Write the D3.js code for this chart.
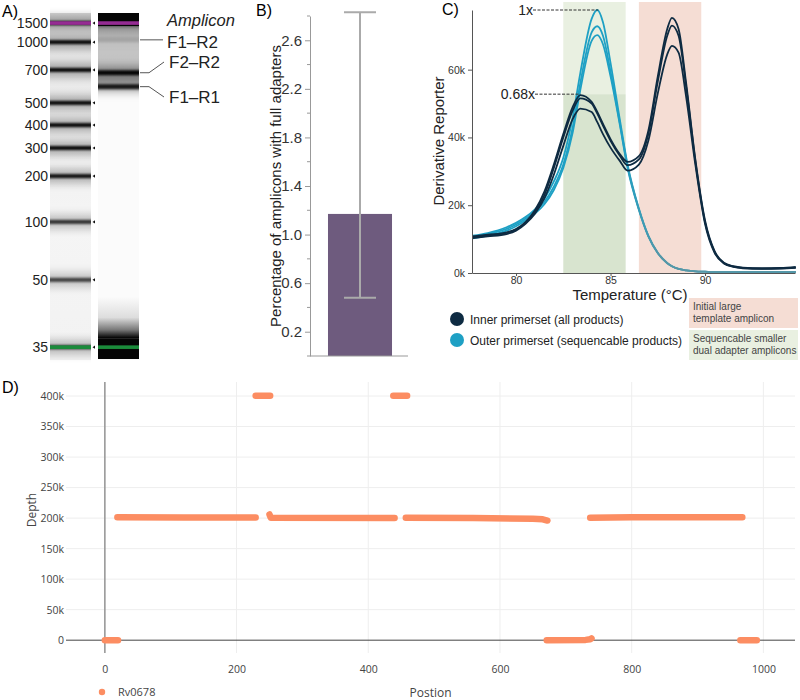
<!DOCTYPE html>
<html>
<head>
<meta charset="utf-8">
<script src="https://cdn.jsdelivr.net/npm/d3@7"></script>
<style>
  body { margin: 0; background: #fff; }
  svg { display: block; font-family: "Liberation Sans", Arial, sans-serif; }
  .plotly text { font-family: "Open Sans", sans-serif; }
</style>
</head>
<body>
<svg id="fig" width="800" height="700"></svg>
<script>
// ---- A) gel ----
const ladderSizes = [1500, 1000, 700, 500, 400, 300, 200, 100, 50, 35];
const ladderMigration = [0.029, 0.084, 0.164, 0.259, 0.323, 0.389, 0.47, 0.602, 0.769, 0.963];
const ladderIntensity = [1, 0.95, 0.95, 0.95, 0.95, 0.95, 0.9, 0.75, 0.68, 0.8];
const ampliconNames = ["F1–R2", "F2–R2", "F1–R1"];
const ampliconSizes = [1050, 680, 590];
const ampliconIntensity = [0.12, 0.95, 0.85];

// ---- B) bar ----
const barCategory = ["Full adapters"];
const barMean = [1.17];
const barLow = [0.48];
const barHigh = [2.83];
const barTicks = [0.2, 0.6, 1.0, 1.4, 1.8, 2.2, 2.6];
const barMinorTicks = [0.4, 0.8, 1.2, 1.6, 2.0, 2.4, 2.8];

// ---- C) melt curves (values in k) ----
const meltTemps = [77.7, 78.5, 79.5, 80, 80.5, 81, 81.5, 82, 82.5, 83, 83.4, 84, 84.3, 84.6, 85, 85.5, 85.9,
  86.5, 87, 87.5, 88, 88.25, 88.6, 89, 89.5, 90, 90.5, 91, 91.5, 92, 93, 94, 94.8];
const innerCurves = [
  [10.8, 11.3, 12.0, 13.0, 15.0, 18.5, 24.0, 32.0, 41.0, 49.0, 52.5, 50.5, 47.5, 44.0, 39.5, 35.0, 32.8,
   34.5, 42.0, 58.0, 72.0, 75.3, 72.0, 56.0, 33.0, 15.5, 6.5, 3.0, 2.0, 1.6, 1.4, 1.5, 1.8],
  [10.5, 11.0, 11.8, 12.8, 14.8, 18.0, 23.0, 31.0, 40.0, 48.0, 51.5, 50.0, 47.0, 43.5, 39.0, 34.5, 31.8,
   33.5, 41.0, 56.5, 70.0, 73.0, 70.0, 55.0, 32.5, 15.0, 6.3, 2.9, 1.9, 1.5, 1.3, 1.4, 1.6],
  [10.3, 10.8, 11.5, 12.5, 14.5, 17.5, 22.0, 29.0, 37.5, 45.5, 48.5, 47.5, 44.5, 41.0, 37.0, 33.0, 30.2,
   32.0, 39.0, 53.0, 64.5, 67.0, 65.0, 52.0, 31.5, 14.5, 6.0, 2.8, 1.8, 1.4, 1.2, 1.3, 1.5]
];
const outerCurves = [
  [11.0, 11.8, 13.5, 14.8, 16.5, 18.8, 22.0, 27.0, 34.0, 46.0, 59.0, 75.0, 77.6, 74.0, 62.0, 45.0, 32.0,
   19.0, 11.0, 6.0, 3.0, 2.0, 1.2, 0.8, 0.5, 0.4, 0.3, 0.3, 0.3, 0.3, 0.3, 0.3, 0.3],
  [10.7, 11.5, 13.0, 14.3, 16.0, 18.2, 21.0, 25.5, 32.0, 43.0, 56.0, 71.0, 72.8, 70.0, 59.5, 44.0, 31.5,
   18.8, 10.9, 5.9, 2.9, 2.0, 1.2, 0.8, 0.5, 0.4, 0.3, 0.3, 0.3, 0.3, 0.3, 0.3, 0.3],
  [10.2, 11.0, 12.5, 13.8, 15.5, 17.5, 20.3, 24.5, 31.0, 41.5, 54.0, 68.5, 70.2, 67.5, 58.0, 43.5, 31.0,
   18.6, 10.8, 5.8, 2.9, 2.0, 1.2, 0.8, 0.5, 0.4, 0.3, 0.3, 0.3, 0.3, 0.3, 0.3, 0.3]
];
const greenZone = [82.5, 85.8];
const redZone = [86.5, 89.8];
const peakRef = 77.6;
const peakRatio = 0.68;
const peakTemps = [84.35, 83.4];
const meltXTicks = [80, 85, 90];
const meltYTicks = [0, 20, 40, 60];
const legendNames = ["Inner primerset (all products)", "Outer primerset (sequencable products)"];

// ---- D) depth ----
const depthSegments = [
  [[0, 0], [20, 0]],
  [[19, 201500], [120, 201000], [229, 201000]],
  [[229, 400500], [251, 400500]],
  [[250, 206000], [252, 200500], [440, 200000]],
  [[438, 400500], [459, 400500]],
  [[457, 200500], [560, 200000], [650, 199000], [665, 198000], [672, 196000]],
  [[671, 0], [730, 500], [737, 1500], [739, 3000]],
  [[737, 200500], [800, 201500], [968, 201500]],
  [[965, 0], [990, 0]]
];
const depthXTicks = [0, 200, 400, 600, 800, 1000];
const depthYTicks = [0, 50000, 100000, 150000, 200000, 250000, 300000, 350000, 400000];
const depthSeriesName = "Rv0678";

const svg = d3.select("#fig");
const defs = svg.append("defs");

const blur = (id, sd) => {
  defs.append("filter").attr("id", id)
    .attr("filterUnits", "userSpaceOnUse")
    .attr("x", 0).attr("y", 0).attr("width", 800).attr("height", 400)
    .append("feGaussianBlur").attr("stdDeviation", `0 ${sd}`);
};
blur("coreBlur", 1);
blur("haloBlur", 4);
blur("smearBlur", 1.5);

const vgrad = (id, stops) => {
  const g = defs.append("linearGradient").attr("id", id)
    .attr("x1", 0).attr("x2", 0).attr("y1", 0).attr("y2", 1);
  stops.forEach(([o, c]) => g.append("stop").attr("offset", o).attr("stop-color", c));
};

// ================= A =================
const gelTop = 13, gelBottom = 360;
const mig = d3.scaleLinear().domain([0, 1]).range([gelTop, gelBottom]);
const sizeToMig = d3.scaleLog().domain(ladderSizes).range(ladderMigration);
const bandY = (s) => mig(sizeToMig(s));
const ladderX = 50, sampleX = 98, laneW = 41;

svg.append("text").attr("x", 2).attr("y", 17).style("font-size", "16px").text("A)");

vgrad("ladderBg", [[0, "#d8d8d8"], [0.06, "#e4e4e4"], [0.3, "#eeeeee"], [0.6, "#f5f5f5"], [1, "#f2f2f2"]]);
vgrad("sampleSmear", [[0, "#222"], [0.08, "#9a9a9a"], [0.25, "#c6c6c6"], [0.55, "#c2c2c2"],
  [0.8, "#a5a5a5"], [0.93, "#dadada"], [1, "#fbfbfb"]]);
vgrad("sampleBottom", [[0, "#fbfbfb"], [0.5, "#dddddd"], [0.8, "#777"], [1, "#000"]]);

const ladder = svg.append("g");
ladder.append("rect").attr("x", ladderX).attr("y", gelTop).attr("width", laneW)
  .attr("height", gelBottom - gelTop).attr("fill", "url(#ladderBg)");

ladderSizes.forEach((s, i) => {
  const y = mig(ladderMigration[i]);
  ladder.append("rect").attr("x", ladderX).attr("y", y - 7).attr("width", laneW).attr("height", 14)
    .attr("fill", "#000").attr("opacity", 0.3 * ladderIntensity[i]).attr("filter", "url(#haloBlur)");
  ladder.append("rect").attr("x", ladderX).attr("y", y - 2).attr("width", laneW).attr("height", 4)
    .attr("fill", "#000").attr("opacity", ladderIntensity[i]).attr("filter", "url(#coreBlur)");
  svg.append("path")
    .attr("d", `M${ladderX + laneW + 4},${y - 1.6}L${ladderX + laneW + 1.5},${y}L${ladderX + laneW + 4},${y + 1.6}Z`)
    .attr("fill", "#111");
  svg.append("text").attr("x", ladderX - 2).attr("y", y + 5).attr("text-anchor", "end")
    .style("font-size", "14px").attr("fill", "#222").text(s);
});

const sample = svg.append("g");
sample.append("rect").attr("x", sampleX).attr("y", gelTop).attr("width", laneW)
  .attr("height", gelBottom - gelTop).attr("fill", "#fbfbfb");
sample.append("rect").attr("x", sampleX).attr("y", bandY(1500)).attr("width", laneW)
  .attr("height", mig(0.23) - bandY(1500)).attr("fill", "url(#sampleSmear)").attr("filter", "url(#smearBlur)");
sample.append("rect").attr("x", sampleX).attr("y", gelTop).attr("width", laneW)
  .attr("height", bandY(1500) + 3 - gelTop).attr("fill", "#050505");
ampliconSizes.forEach((s, i) => {
  const y = bandY(s);
  sample.append("rect").attr("x", sampleX).attr("y", y - 6).attr("width", laneW).attr("height", 12)
    .attr("fill", "#000").attr("opacity", 0.3 * ampliconIntensity[i]).attr("filter", "url(#haloBlur)");
  sample.append("rect").attr("x", sampleX).attr("y", y - 2.5).attr("width", laneW).attr("height", 5)
    .attr("fill", "#000").attr("opacity", ampliconIntensity[i]).attr("filter", "url(#coreBlur)");
});
sample.append("rect").attr("x", sampleX).attr("y", mig(0.818)).attr("width", laneW)
  .attr("height", mig(0.937) - mig(0.818)).attr("fill", "url(#sampleBottom)");
sample.append("rect").attr("x", sampleX).attr("y", mig(0.937)).attr("width", laneW)
  .attr("height", gelBottom - mig(0.937) - 1).attr("fill", "#050505");

// size markers (top purple, bottom green)
[ladderX, sampleX].forEach((lx) => {
  svg.append("rect").attr("x", lx).attr("y", bandY(1500) - 1.8).attr("width", laneW).attr("height", 3.6)
    .attr("fill", "#952c93");
  svg.append("rect").attr("x", lx).attr("y", bandY(35) - 1.8).attr("width", laneW).attr("height", 3.6)
    .attr("fill", "#1b8b3b");
});

// amplicon labels
svg.append("text").attr("x", 167).attr("y", 26).style("font-size", "16.5px")
  .style("font-style", "italic").attr("fill", "#222").text("Amplicon");
const labelY = [42, 62, 97];
ampliconSizes.forEach((s, i) => {
  const y = bandY(s);
  const ly = labelY[i];
  const pts = i === 0 ? [[140, y], [163, y]] : [[140, y], [149, y], [164, ly]];
  svg.append("path").attr("d", d3.line()(pts)).attr("fill", "none").attr("stroke", "#555").attr("stroke-width", 1);
  svg.append("text").attr("x", i === 0 ? 167 : 169).attr("y", ly + 6).style("font-size", "17px")
    .attr("fill", "#222").text(ampliconNames[i]);
});

// ================= B =================
svg.append("text").attr("x", 256).attr("y", 16).style("font-size", "16px").text("B)");
const yB = d3.scaleLinear().domain([0, 2.8]).range([356, 16]);
const xB = d3.scaleBand().domain(barCategory).range([310, 410]).paddingInner(0).paddingOuter(0.281);

svg.append("rect").attr("x", xB(barCategory[0])).attr("y", yB(barMean[0]))
  .attr("width", xB.bandwidth()).attr("height", yB(0) - yB(barMean[0])).attr("fill", "#6e5b7e");

const gB = svg.append("g").attr("transform", "translate(310,0)")
  .call(d3.axisLeft(yB).tickValues(barTicks).tickSize(5).tickSizeOuter(0).tickFormat(d3.format(".1f")));
gB.select(".domain").attr("stroke", "#999");
gB.selectAll(".tick line").attr("stroke", "#999");
gB.selectAll(".tick text").style("font-size", "15px").attr("fill", "#333")
  .style("font-family", "'Liberation Sans', Arial, sans-serif");
svg.append("g").selectAll("line").data(barMinorTicks).join("line")
  .attr("x1", 307).attr("x2", 310).attr("y1", (d) => yB(d)).attr("y2", (d) => yB(d)).attr("stroke", "#999");
svg.append("line").attr("x1", 307).attr("x2", 408).attr("y1", yB(0)).attr("y2", yB(0)).attr("stroke", "#999");

const cx = xB(barCategory[0]) + xB.bandwidth() / 2;
const capW = xB.bandwidth() / 2;
svg.append("line").attr("x1", cx).attr("x2", cx).attr("y1", yB(barHigh[0])).attr("y2", yB(barLow[0]))
  .attr("stroke", "#aaa").attr("stroke-width", 2);
[barHigh[0], barLow[0]].forEach((v) => {
  svg.append("line").attr("x1", cx - capW / 2).attr("x2", cx + capW / 2).attr("y1", yB(v)).attr("y2", yB(v))
    .attr("stroke", "#aaa").attr("stroke-width", 2);
});
svg.append("text").attr("transform", "translate(281,186) rotate(-90)").attr("text-anchor", "middle")
  .style("font-size", "15px").attr("fill", "#222").text("Percentage of amplicons with full adapters");

// ================= C =================
svg.append("text").attr("x", 442).attr("y", 15).style("font-size", "16px").text("C)");
const xC = d3.scaleLinear().domain([77.67, 94.76]).range([472, 795]);
const yC = d3.scaleLinear().domain([0, peakRef]).range([273, 10]);
const zoneTop = yC.range()[1] - 8;

svg.append("rect").attr("x", xC(redZone[0])).attr("y", zoneTop).attr("width", xC(redZone[1]) - xC(redZone[0]))
  .attr("height", yC(0) - zoneTop).attr("fill", "#f5ddd4");
svg.append("rect").attr("x", xC(greenZone[0])).attr("y", zoneTop).attr("width", xC(greenZone[1]) - xC(greenZone[0]))
  .attr("height", yC(peakRef * peakRatio) - zoneTop).attr("fill", "#e9f0e1");
svg.append("rect").attr("x", xC(greenZone[0])).attr("y", yC(peakRef * peakRatio))
  .attr("width", xC(greenZone[1]) - xC(greenZone[0]))
  .attr("height", yC(0) - yC(peakRef * peakRatio)).attr("fill", "#d8e4cf");

const outerGrad = defs.append("linearGradient").attr("id", "outerGrad").attr("gradientUnits", "userSpaceOnUse")
  .attr("x1", xC(85.6)).attr("x2", xC(87.6)).attr("y1", 0).attr("y2", 0);
outerGrad.append("stop").attr("offset", 0).attr("stop-color", "#1ea0c4");
outerGrad.append("stop").attr("offset", 1).attr("stop-color", "#5497a8");

const meltLine = d3.line().x((d, i) => xC(meltTemps[i])).y((d) => yC(d)).curve(d3.curveMonotoneX);
svg.append("g").selectAll("path").data(outerCurves).join("path")
  .attr("d", meltLine).attr("fill", "none").attr("stroke", "url(#outerGrad)").attr("stroke-width", 1.8);
svg.append("g").selectAll("path").data(innerCurves).join("path")
  .attr("d", meltLine).attr("fill", "none").attr("stroke", "#0e2b42").attr("stroke-width", 1.8);

const gxC = svg.append("g").attr("transform", `translate(0,${yC(0)})`)
  .call(d3.axisBottom(xC).tickValues(meltXTicks).tickSize(3).tickPadding(1).tickSizeOuter(0));
const gyC = svg.append("g").attr("transform", `translate(${xC.range()[0]},0)`)
  .call(d3.axisLeft(yC).tickValues(meltYTicks).tickSize(4).tickSizeOuter(0).tickFormat((d) => d + "k"));
[gxC, gyC].forEach((g) => {
  g.select(".domain").attr("stroke", "#555");
  g.selectAll(".tick line").attr("stroke", "#555");
  g.selectAll(".tick text").style("font-size", "10.5px").attr("fill", "#333")
    .style("font-family", "'Liberation Sans', Arial, sans-serif");
});

// peak annotations
const peakLabels = ["1x", peakRatio + "x"];
const peakVals = [peakRef, peakRef * peakRatio];
const labelRight = [533, 535];
peakVals.forEach((v, i) => {
  svg.append("line").attr("x1", labelRight[i]).attr("x2", xC(peakTemps[i])).attr("y1", yC(v)).attr("y2", yC(v))
    .attr("stroke", "#333").attr("stroke-width", 1).attr("stroke-dasharray", "3,1.5");
  svg.append("text").attr("x", labelRight[i]).attr("y", yC(v) + 5).attr("text-anchor", "end")
    .style("font-size", "14px").attr("fill", "#222").text(peakLabels[i]);
});

svg.append("text").attr("transform", "translate(444,141) rotate(-90)").attr("text-anchor", "middle")
  .style("font-size", "15px").attr("fill", "#222").text("Derivative Reporter");
svg.append("text").attr("x", 630).attr("y", 300).attr("text-anchor", "middle")
  .style("font-size", "15px").attr("fill", "#222").text("Temperature (°C)");

// legend
const legendColors = ["#0e2b42", "#1ea0c4"];
legendNames.forEach((n, i) => {
  const y = 319 + i * 21;
  svg.append("circle").attr("cx", 457).attr("cy", y).attr("r", 7).attr("fill", legendColors[i]);
  svg.append("text").attr("x", 470).attr("y", y + 4.5).style("font-size", "12px").attr("fill", "#222").text(n);
});
const zoneBoxes = [
  { fill: "#f5ddd4", lines: ["Initial large", "template amplicon"] },
  { fill: "#e9f0e1", lines: ["Sequencable smaller", "dual adapter amplicons"] }
];
zoneBoxes.forEach((b, i) => {
  const y0 = 298 + i * 32;
  svg.append("rect").attr("x", 689).attr("y", y0).attr("width", 109).attr("height", 30).attr("fill", b.fill);
  b.lines.forEach((t, j) => {
    svg.append("text").attr("x", 693).attr("y", y0 + 12 + j * 12).style("font-size", "10px")
      .attr("fill", "#444").text(t);
  });
});

// ================= D =================
svg.append("text").attr("x", 2).attr("y", 393).style("font-size", "16px").text("D)");
const pD = svg.append("g").attr("class", "plotly");
const xD = d3.scaleLinear().domain([-59, 1048]).range([66, 795]);
const yD = d3.scaleLinear().domain([-21000, 423000]).range([653, 382]);

pD.append("g").selectAll("line").data(depthXTicks.filter((d) => d !== 0)).join("line")
  .attr("x1", (d) => xD(d)).attr("x2", (d) => xD(d)).attr("y1", yD.range()[1]).attr("y2", yD.range()[0])
  .attr("stroke", "#eee");
pD.append("g").selectAll("line").data(depthYTicks.filter((d) => d !== 0)).join("line")
  .attr("x1", xD.range()[0]).attr("x2", xD.range()[1]).attr("y1", (d) => yD(d)).attr("y2", (d) => yD(d))
  .attr("stroke", "#eee");
pD.append("line").attr("x1", xD(0)).attr("x2", xD(0)).attr("y1", yD.range()[1]).attr("y2", yD.range()[0])
  .attr("stroke", "#999").attr("stroke-width", 1.6);
pD.append("line").attr("x1", xD.range()[0]).attr("x2", xD.range()[1]).attr("y1", yD(0)).attr("y2", yD(0))
  .attr("stroke", "#444").attr("stroke-width", 1);

const gxD = pD.append("g").attr("transform", `translate(0,${yD.range()[0]})`)
  .call(d3.axisBottom(xD).tickValues(depthXTicks).tickSize(0).tickPadding(13).tickFormat(d3.format("d")));
const gyD = pD.append("g").attr("transform", `translate(${xD.range()[0]},0)`)
  .call(d3.axisLeft(yD).tickValues(depthYTicks).tickSize(0).tickPadding(2)
    .tickFormat((d) => (d === 0 ? "0" : d / 1000 + "k")));
[gxD, gyD].forEach((g) => {
  g.select(".domain").remove();
  g.selectAll(".tick text").style("font-size", "10.5px").attr("fill", "#444")
    .style("font-family", "'Open Sans', sans-serif");
});

const depthLine = d3.line().x((d) => xD(d[0])).y((d) => yD(d[1]));
pD.append("g").selectAll("path").data(depthSegments).join("path")
  .attr("d", depthLine).attr("fill", "none").attr("stroke", "#fc8d62")
  .attr("stroke-width", 6.5).attr("stroke-linecap", "round").attr("stroke-linejoin", "round");

pD.append("text").attr("transform", "translate(36,510) rotate(-90)").attr("text-anchor", "middle")
  .style("font-size", "12px").attr("fill", "#444").text("Depth");
pD.append("text").attr("x", (xD.range()[0] + xD.range()[1]) / 2).attr("y", 697).attr("text-anchor", "middle")
  .style("font-size", "12px").attr("fill", "#444").text("Postion");
pD.append("circle").attr("cx", 102).attr("cy", 692).attr("r", 3.2).attr("fill", "#fc8d62");
pD.append("text").attr("x", 118).attr("y", 696).style("font-size", "11px").attr("fill", "#444").text(depthSeriesName);
</script>
</body>
</html>
